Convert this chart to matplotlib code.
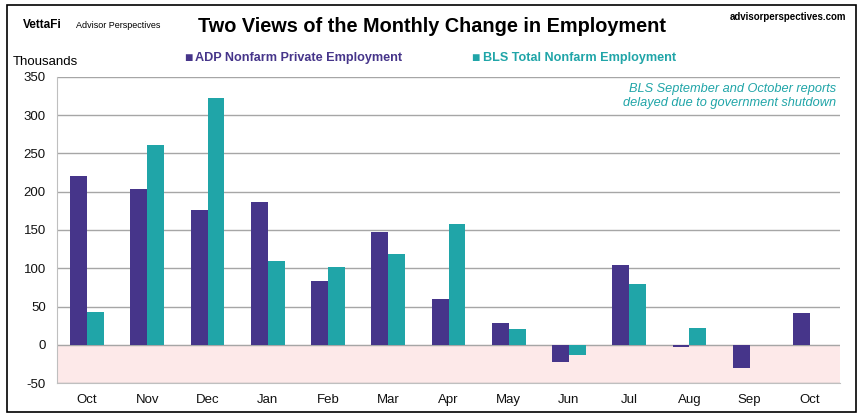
import numpy as np
import matplotlib.pyplot as plt
from matplotlib.patches import Rectangle

plt.rcParams['font.family'] = ['Liberation Sans', 'DejaVu Sans']
plt.rcParams['axes.unicode_minus'] = False

months = ['Oct', 'Nov', 'Dec', 'Jan', 'Feb', 'Mar', 'Apr', 'May', 'Jun', 'Jul', 'Aug', 'Sep', 'Oct']
adp = [220, 203, 176, 186, 83, 147, 60, 29, -23, 104, -3, -30, 42]
bls = [43, 261, 323, 110, 101, 119, 158, 20, -13, 79, 22, np.nan, np.nan]
yticks = [-50, 0, 50, 100, 150, 200, 250, 300, 350]

adp_color = '#46358a'
bls_color = '#20a5a8'

fig = plt.figure(figsize=(8.6, 4.18), dpi=100)
ax = fig.add_axes([57 / 860, 1 - 383 / 418, 783 / 860, 306 / 418])

x = np.arange(len(months))
w = 0.28
ax.axhspan(-50, 0, color='#fde9e9', zorder=0)
ax.bar(x - w / 2, adp, width=w, color=adp_color, zorder=3)
ax.bar(x + w / 2, bls, width=w, color=bls_color, zorder=3)

ax.set_xlim(-0.5, len(months) - 0.5)
ax.set_ylim(-50, 350)
ax.set_yticks(yticks)
ax.set_xticks(x)
ax.set_xticklabels(months)
ax.tick_params(axis='both', length=0, labelsize=9.5, colors='#111111')
ax.tick_params(axis='x', pad=8)
ax.tick_params(axis='y', pad=8)
ax.grid(axis='y', color='#a6a6a6', linewidth=1, zorder=1)
for s in ['top', 'right']:
    ax.spines[s].set_visible(False)
ax.spines['left'].set_color('#bfbfbf')
ax.spines['bottom'].set_color('#bfbfbf')

# titles and labels
fig.text(432 / 860, 1 - 27 / 418, 'Two Views of the Monthly Change in Employment', ha='center', va='center',
         fontsize=14.3, fontweight='bold', color='black')
fig.text(23 / 860, 1 - 25 / 418, 'VettaFi', ha='left', va='center', fontsize=8.5, fontweight='bold')
fig.text(76 / 860, 1 - 25 / 418, 'Advisor Perspectives', ha='left', va='center', fontsize=6.5)
fig.text(846 / 860, 1 - 17 / 418, 'advisorperspectives.com', ha='right', va='center', fontsize=7, fontweight='bold')
fig.text(13 / 860, 1 - 62 / 418, 'Thousands', ha='left', va='center', fontsize=9.5)

# legend
fig.text(184 / 860, 1 - 58 / 418, '\u25a0', ha='left', va='center', fontsize=10, color=adp_color)
fig.text(195 / 860, 1 - 58 / 418, 'ADP Nonfarm Private Employment', ha='left', va='center', fontsize=9.1,
         fontweight='bold', color=adp_color)
fig.text(471 / 860, 1 - 58 / 418, '\u25a0', ha='left', va='center', fontsize=10, color=bls_color)
fig.text(483 / 860, 1 - 58 / 418, 'BLS Total Nonfarm Employment', ha='left', va='center', fontsize=9.1,
         fontweight='bold', color=bls_color)

ax.text(0.995, 0.982, 'BLS September and October reports\ndelayed due to government shutdown',
        transform=ax.transAxes, ha='right', va='top', fontsize=9.2, style='italic', color=bls_color,
        linespacing=1.25, zorder=5)

fig.patches.append(Rectangle((7 / 860, 1 - 412 / 418), 849 / 860, 407 / 418, transform=fig.transFigure,
                             fill=False, edgecolor='black', linewidth=1.2))

fig.savefig('out.png', dpi=100)
